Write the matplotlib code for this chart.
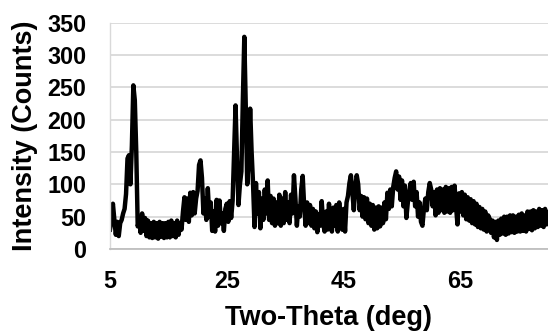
import numpy as np
import matplotlib
matplotlib.use("Agg")
import matplotlib.pyplot as plt

plt.rcParams["font.family"] = ["Liberation Sans", "DejaVu Sans"]
plt.rcParams["font.weight"] = "bold"

# scan from 5 to 80 deg, step 0.25 deg
two_theta = np.linspace(5, 80, 301)

# counts, one row per 5 deg (20 points each)
counts = [
    30, 45, 70, 45, 22, 42, 20, 40, 45, 55, 62, 85, 140, 145, 100, 160, 253, 230, 150, 35,
    45, 25, 55, 28, 48, 20, 44, 18, 40, 17, 42, 18, 40, 16, 42, 19, 40, 17, 40, 18,
    42, 18, 44, 20, 40, 18, 44, 22, 40, 30, 58, 80, 45, 78, 42, 87, 52, 88, 55, 78,
    90, 130, 137, 110, 55, 78, 45, 94, 50, 72, 28, 58, 27, 76, 36, 75, 40, 55, 28, 62,
    70, 42, 74, 48, 75, 150, 222, 140, 68, 100, 120, 230, 328, 220, 100, 140, 217, 150, 100, 34,
    102, 55, 88, 32, 78, 45, 92, 55, 106, 45, 82, 40, 78, 36, 72, 40, 84, 36, 78, 40,
    88, 45, 72, 40, 84, 55, 114, 78, 36, 66, 50, 92, 113, 66, 36, 72, 40, 68, 36, 62,
    32, 58, 26, 54, 36, 74, 40, 27, 58, 30, 70, 36, 27, 64, 36, 68, 27, 72, 42, 30,
    62, 27, 72, 82, 102, 114, 88, 60, 96, 114, 100, 60, 82, 50, 80, 46, 78, 40, 70, 36,
    68, 30, 64, 32, 66, 35, 64, 40, 72, 46, 87, 62, 92, 66, 96, 110, 120, 92, 112, 76,
    106, 66, 98, 48, 72, 88, 102, 76, 104, 66, 88, 50, 72, 42, 36, 62, 78, 60, 88, 102,
    92, 66, 88, 52, 92, 56, 94, 60, 92, 56, 96, 58, 94, 56, 96, 60, 98, 66, 38, 86,
    58, 88, 52, 84, 46, 80, 44, 77, 40, 74, 38, 70, 34, 65, 32, 62, 30, 58, 27, 52,
    47, 25, 44, 18, 42, 14, 44, 22, 47, 24, 50, 22, 50, 24, 52, 26, 52, 25, 50, 27,
    53, 27, 55, 28, 52, 27, 58, 31, 58, 29, 60, 32, 58, 34, 62, 36, 60, 34, 62, 38,
    56,
]

x_ticks = [5, 25, 45, 65]
y_ticks = [0, 50, 100, 150, 200, 250, 300, 350]

fig = plt.figure(figsize=(5.48, 3.31), dpi=100)
ax = fig.add_axes([0.2007, 0.2477, 0.7993, 0.684])

ax.plot(two_theta, counts, color="black", linewidth=3.2, solid_joinstyle="round")

ax.set_xlim(5, 80)
ax.set_ylim(0, 350)
ax.set_xticks(x_ticks)
ax.set_yticks(y_ticks)
ax.tick_params(axis="both", length=0, labelsize=16.8)
ax.tick_params(axis="x", pad=15)
ax.tick_params(axis="y", pad=17)

ax.grid(axis="y", color="#d9d9d9", linewidth=1.3)
ax.set_axisbelow(True)
for side in ["top", "right"]:
    ax.spines[side].set_visible(False)
ax.spines["bottom"].set_color("#bfbfbf")
ax.spines["left"].set_color("#d9d9d9")
ax.spines["bottom"].set_linewidth(1.3)
ax.spines["left"].set_linewidth(1.0)

ax.set_xlabel("Two-Theta (deg)", fontsize=19.5, fontweight="bold", va="center")
ax.set_ylabel("Intensity (Counts)", fontsize=19.5, fontweight="bold", va="center")
ax.xaxis.set_label_coords(0.5, -0.305)
ax.yaxis.set_label_coords(-0.194, 0.5)

fig.savefig("out.png", dpi=100)
